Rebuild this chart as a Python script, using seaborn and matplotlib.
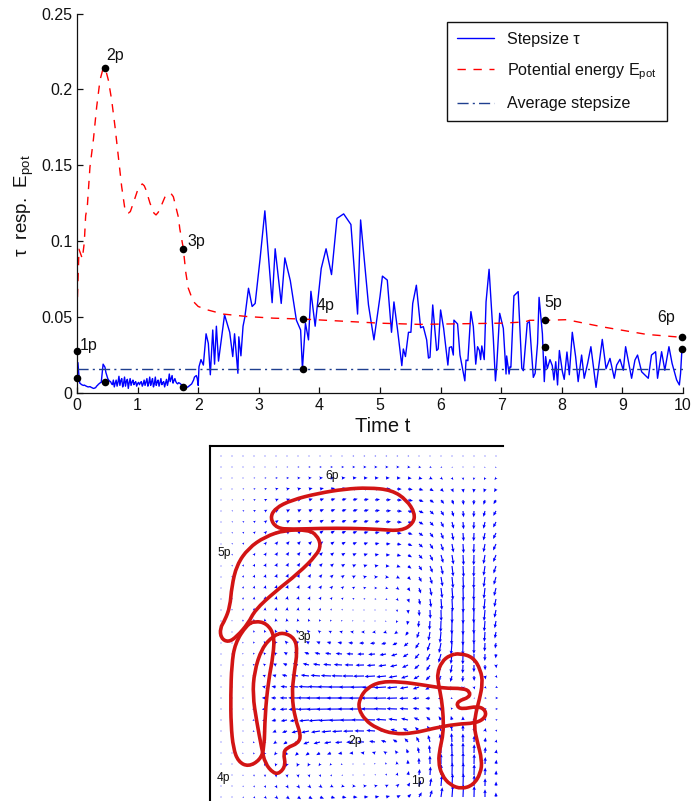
import numpy as np
import matplotlib
matplotlib.use('Agg')
import matplotlib.pyplot as plt
from matplotlib.path import Path
from matplotlib.patches import PathPatch
import seaborn as sns

W, H = 693, 801

# stepsize, evenly sampled on 0..2
tau_early = [.020, .020, .012, .0065, .006, .0055, .0052, .005, .0052, .0048, .0045, .0042, .004, .0041, .0042, .0038,
             .0035, .0032, .003, .0033, .0035, .0045, .005, .0058, .0062, .0068, .007, .013, .019, .018, .017, .0135,
             .0115, .0095, .0085, .0078, .0075, .0062, .0055, .0085, .004, .0065, .0085, .0045, .0072, .011, .005,
             .0082, .0095, .004, .0065, .0105, .0045, .0078, .009, .003, .0068, .0095, .005, .0072, .0085, .0055,
             .0068, .0075, .0045, .0062, .007, .0055, .0068, .0075, .0045, .006, .0085, .005, .0072, .0095, .0045,
             .0065, .0105, .005, .0075, .0095, .004, .0062, .0105, .005, .0072, .0085, .0045, .0068, .0095, .0055,
             .0068, .0075, .004, .0065, .009, .005, .0078, .0125, .0075, .0095, .0115, .0065, .0082, .0095, .0075,
             .0065, .006, .0068, .0065, .006, .0055, .0048, .004, .0038, .0038, .0035, .0038, .004, .0045, .005,
             .0055, .006, .0072, .0085, .0105, .011, .0115, .0095, .005]
# stepsize after t=2
tau_late_t = [2.013, 2.046, 2.085, 2.13, 2.167, 2.2, 2.24, 2.27, 2.30, 2.335, 2.435, 2.52, 2.57, 2.6, 2.655, 2.67,
              2.705, 2.74, 2.77, 2.83, 2.89, 2.94, 3.02, 3.1, 3.22, 3.27, 3.37, 3.43, 3.52, 3.62, 3.69, 3.72, 3.77,
              3.82, 3.86, 3.93, 4.03, 4.11, 4.2, 4.29, 4.4, 4.52, 4.63, 4.68, 4.81, 4.9, 5.0, 5.04, 5.12, 5.19, 5.23,
              5.29, 5.36, 5.385, 5.42, 5.47, 5.51, 5.54, 5.6, 5.67, 5.715, 5.77, 5.8, 5.825, 5.87, 5.935, 5.96, 6.0,
              6.05, 6.12, 6.145, 6.18, 6.21, 6.22, 6.28, 6.32, 6.4, 6.42, 6.45, 6.5, 6.54, 6.58, 6.61, 6.64, 6.66,
              6.68, 6.72, 6.75, 6.8, 6.87, 6.905, 6.925, 6.975, 7.035, 7.08, 7.09, 7.13, 7.145, 7.16, 7.21, 7.28,
              7.34, 7.365, 7.43, 7.465, 7.53, 7.56, 7.60, 7.625, 7.68, 7.711, 7.733, 7.76, 7.805, 7.843, 7.87, 7.9,
              7.93, 7.96, 8.01, 8.04, 8.085, 8.124, 8.173, 8.228, 8.27, 8.327, 8.37, 8.426, 8.48, 8.565, 8.668, 8.73,
              8.795, 8.866, 8.905, 8.96, 9.015, 9.053, 9.152, 9.207, 9.25, 9.317, 9.427, 9.48, 9.548, 9.58, 9.647,
              9.70, 9.768, 9.82, 9.895, 9.94, 9.96, 9.983]
tau_late = [.0173, .022, .0184, .039, .0327, .012, .0415, .019, .044, .021, .0515, .04, .024, .039, .013, .037,
            .0245, .044, .05, .069, .057, .059, .088, .12, .0595, .095, .059, .089, .074, .048, .0415, .016, .046,
            .035, .067, .044, .082, .095, .078, .115, .118, .111, .052, .114, .058, .035, .0635, .077, .0744, .04, .06,
            .0415, .018, .029, .024, .04, .04, .059, .071, .043, .0437, .035, .023, .0235, .058, .028, .029, .0547,
            .0426, .0184, .03, .0305, .025, .048, .0455, .025, .008, .0217, .0213, .0536, .0437, .019, .0305, .028, .022,
            .031, .022, .06, .0815, .036, .008, .017, .0525, .0426, .0125, .0244, .0125, .0173, .017, .064, .0668,
            .0162, .0147, .046, .047, .0103, .013, .0327, .063, .039, .0075, .024, .016, .022, .018, .0086, .0206,
            .0053, .028, .014, .009, .027, .012, .04, .024, .0075, .025, .0097, .0195, .0305, .0037, .0353, .016,
            .0228, .0097, .0184, .0222, .015, .0305, .0097, .0217, .025, .014, .0097, .025, .0272, .0097, .0272,
            .015, .0305, .0195, .0086, .0053, .013, .0294]

epot_t = [0, 0, .005, .033, .088, .12, .143, .17, .214, .27, .325, .38, .424, .467, .517, .572, .627, .682, .737, .792,
          .82, .847, .88, .93, 1.012, 1.045, 1.078, 1.11, 1.139, 1.205, 1.27, 1.304, 1.34, 1.397, 1.45, 1.507, 1.55,
          1.59, 1.672, 1.697, 1.752, 1.796, 1.835, 1.917, 2.0, 2.138, 2.413, 2.8, 3.24, 3.735, 5.0, 5.65, 7.0, 7.39,
          7.47, 7.72, 8.08, 8.68, 9.4, 9.975]
epot = [0, .028, .06, .0947, .0885, .099, .1168, .1227, .149, .1667, .1886, .2062, .2128, .2139, .2062, .193, .1755,
        .1558, .136, .1207, .1185, .1185, .1195, .1252, .135, .1368, .1377, .1365, .1338, .125, .1185, .1173, .119,
        .124, .129, .1315, .1315, .1293, .116, .108, .0958, .0792, .0692, .0604, .057, .0549, .052, .0504, .0493,
        .0487, .046, .0452, .046, .0468, .0479, .0479, .0483, .0435, .0386, .0367]

avg_stepsize = .0155
snap_t = [0, 0, .467, .47, 1.75, 1.75, 3.73, 3.73, 7.72, 7.72, 9.98, 9.98]
snap_v = [.0275, .01, .214, .0075, .095, .0038, .0485, .0155, .048, .03, .037, .029]
snap_labels = ['1p', '2p', '3p', '4p', '5p', '6p']
snap_label_t = [.05, .48, 1.82, 3.95, 7.72, 9.57]
snap_label_v = [.0315, .2225, .0995, .0575, .0595, .050]
x_ticks = list(range(11))
y_ticks = [0, .05, .1, .15, .2, .25]
y_tick_labels = ['0', '0.05', '0.1', '0.15', '0.2', '0.25']

# flow field, arrow components in picture pixels (v positive = downwards)
field_u = [
    [.4, .4, .4, .4, .5, .5, .5, .5, .7, .7, .7, .7, 1, 1, 1, 1, 1, 1, .8, .5, .3, .2, 0, -.1, -.2, -.3],
    [.5, .5, .6, .7, .8, .9, 1, 1.2, 1.4, 1.5, 1.6, 1.7, 1.8, 2, 2, 2, 2, 2, 1.8, 1.4, 1, .5, .2, -.2, -.4, -.6],
    [.6, .7, .8, 1, 1.2, 1.5, 1.7, 2, 2.2, 2.4, 2.6, 2.8, 3, 3, 3, 3, 3, 3, 2.8, 2.2, 1.6, 1, .3, -.3, -.8, -1.2],
    [.6, .8, 1, 1.3, 1.6, 2, 2.3, 2.6, 2.9, 3.1, 3.3, 3.5, 3.6, 3.7, 3.7, 3.7, 3.8, 3.8, 3.5, 3, 2.2, 1.2, .4, -.3, -1, -1.6],
    [.6, .8, 1.1, 1.4, 1.8, 2.2, 2.5, 2.8, 3, 3.3, 3.5, 3.7, 3.8, 3.9, 4, 4, 4, 4, 3.7, 3.2, 2.5, 1.4, .5, -.3, -1.2, -2],
    [.6, .8, 1.1, 1.5, 1.9, 2.2, 2.5, 2.8, 3, 3.2, 3.4, 3.6, 3.8, 3.9, 4, 4.1, 4.1, 4, 3.8, 3.2, 2.4, 1.4, .5, -.3, -1.3, -2.2],
    [.5, .8, 1.1, 1.4, 1.8, 2.1, 2.4, 2.7, 2.9, 3.1, 3.3, 3.5, 3.7, 3.8, 3.9, 4, 4, 3.9, 3.6, 3, 2.2, 1.4, .5, -.3, -1.3, -2.3],
    [.4, .7, 1, 1.3, 1.6, 1.9, 2.2, 2.5, 2.7, 2.9, 3.1, 3.3, 3.4, 3.6, 3.7, 3.8, 3.8, 3.7, 3.4, 2.8, 2, 1.2, .5, -.3, -1.3, -2.3],
    [.3, .6, .9, 1.1, 1.4, 1.7, 2, 2.2, 2.4, 2.6, 2.8, 3, 3.2, 3.3, 3.5, 3.6, 3.6, 3.5, 3.2, 2.6, 1.9, 1.2, .5, -.3, -1.3, -2.3],
    [.2, .5, .7, 1, 1.2, 1.5, 1.7, 1.9, 2.1, 2.3, 2.5, 2.7, 2.9, 3.1, 3.2, 3.3, 3.3, 3.2, 2.9, 2.4, 1.8, 1.2, .5, -.3, -1.3, -2.2],
    [.2, .4, .6, .8, 1, 1.2, 1.4, 1.7, 1.9, 2.1, 2.3, 2.5, 2.6, 2.8, 2.9, 2.9, 2.9, 2.8, 2.5, 2.1, 1.6, 1, .5, -.3, -1.2, -2],
    [.1, .3, .5, .7, .8, 1, 1.2, 1.4, 1.6, 1.8, 2, 2.1, 2.3, 2.4, 2.5, 2.5, 2.4, 2.3, 2.1, 1.8, 1.3, .9, .4, -.3, -1.1, -1.8],
    [.1, .2, .4, .5, .7, .8, 1, 1.1, 1.3, 1.5, 1.6, 1.7, 1.8, 1.9, 1.9, 1.9, 1.9, 1.8, 1.6, 1.4, 1, .7, .3, -.3, -1, -1.6],
    [0, .1, .2, .3, .5, .6, .7, .8, .9, 1, 1.1, 1.2, 1.2, 1.2, 1.2, 1.2, 1.2, 1.1, 1, .9, .7, .5, .2, -.3, -.9, -1.4],
    [0, 0, .1, .2, .2, .3, .3, .4, .4, .4, .4, .4, .4, .4, .3, .3, .3, .3, .3, .3, .2, .1, .1, -.3, -.8, -1.3],
    [0, 0, -.1, -.2, -.3, -.4, -.4, -.5, -.6, -.7, -.8, -.8, -.8, -.8, -.7, -.7, -.7, -.7, -.6, -.5, -.3, -.2, 0, -.2, -.7, -1.1],
    [0, -.1, -.2, -.4, -.6, -.9, -1.1, -1.4, -1.6, -1.8, -2, -2.2, -2.3, -2.3, -2.3, -2.3, -2.2, -2.1, -1.8, -1.3, -.9, -.4, -.1, -.1, -.6, -1],
    [0, -.1, -.3, -.6, -1, -1.4, -1.8, -2.2, -2.6, -3, -3.4, -3.6, -3.8, -3.9, -4, -3.9, -3.7, -3.4, -3, -2.3, -1.6, -.8, -.2, -.1, -.4, -.7],
    [0, -.2, -.4, -.8, -1.3, -1.9, -2.6, -3.2, -3.8, -4.4, -4.8, -5.1, -5.3, -5.4, -5.4, -5.2, -4.8, -4.2, -3.5, -2.8, -2, -1, -.2, -.1, -.2, -.3],
    [0, -.2, -.5, -1, -1.6, -2.4, -3.3, -4.2, -5, -5.7, -6.3, -6.6, -6.8, -6.8, -6.6, -6.2, -5.6, -4.8, -3.8, -3, -2.2, -1.2, -.3, -.1, .1, .3],
    [0, -.3, -.6, -1.2, -2, -3, -4.2, -5.4, -6.6, -7.6, -8.2, -8.6, -8.8, -8.8, -8.4, -7.8, -6.8, -5.6, -4.4, -3.4, -2.4, -1.4, -.4, .2, .6, 1],
    [0, -.3, -.7, -1.4, -2.4, -3.6, -5.2, -6.8, -8.4, -9.6, -10.6, -11, -11.2, -11, -10.4, -9.6, -8.2, -6.6, -5, -3.8, -2.6, -1.4, -.3, .6, 1.2, 1.6],
    [0, -.3, -.8, -1.5, -2.6, -4, -5.8, -7.8, -9.6, -11, -12, -12.4, -12.4, -12, -11.2, -10, -8.6, -7, -5.2, -3.8, -2.4, -1.2, -.2, .8, 1.4, 1.8],
    [0, -.3, -.8, -1.5, -2.6, -4, -5.8, -7.6, -9.4, -10.8, -11.8, -12.2, -12.2, -11.8, -11, -9.8, -8.4, -6.8, -5, -3.6, -2.2, -1, -.1, .7, 1.3, 1.6],
    [0, -.3, -.7, -1.3, -2.3, -3.6, -5, -6.6, -8, -9.2, -10, -10.4, -10.4, -10, -9.2, -8.2, -7, -5.6, -4.2, -3, -1.9, -.9, -.1, .5, 1, 1.3],
    [0, -.2, -.6, -1.1, -1.9, -2.9, -4, -5.2, -6.3, -7.2, -7.8, -8, -8, -7.7, -7, -6.2, -5.2, -4.2, -3.2, -2.3, -1.5, -.8, -.1, .4, .7, .9],
    [0, -.2, -.5, -.9, -1.5, -2.2, -3, -3.8, -4.6, -5.2, -5.6, -5.6, -5.5, -5.2, -4.7, -4.1, -3.4, -2.8, -2.2, -1.6, -1, -.5, -.1, .3, .5, .6],
    [0, -.1, -.3, -.6, -1, -1.5, -2, -2.4, -2.8, -3, -3.2, -3.2, -3, -2.8, -2.5, -2.1, -1.7, -1.3, -1, -.7, -.5, -.3, 0, .2, .4, .5],
    [0, -.1, -.2, -.3, -.5, -.7, -.9, -1, -1.1, -1.1, -1.1, -1, -.8, -.7, -.6, -.4, -.3, -.2, -.1, -.1, 0, 0, .1, .2, .3, .4],
    [0, 0, 0, .1, .1, .2, .3, .4, .5, .6, .7, .7, .7, .7, .7, .7, .7, .7, .6, .4, .3, .2, .2, .2, .2, .2],
    [.1, .2, .3, .5, .7, 1, 1.2, 1.5, 1.8, 2, 2.1, 2.2, 2.3, 2.3, 2.2, 2.1, 1.9, 1.7, 1.4, 1.1, .7, .5, .3, .2, .1, .1],
    [.2, .4, .7, 1, 1.4, 1.8, 2.2, 2.5, 2.9, 3.2, 3.4, 3.6, 3.6, 3.5, 3.4, 3.2, 3, 2.6, 2.2, 1.7, 1.1, .7, .4, .2, 0, -.1],
]
field_v = [
    [0, 0, 0, 0, 0, 0, 0, 0, 0, 0, 0, 0, 0, 0, 0, 0, 0, 0, 0, 0, .2, .2, .2, .2, .2, .2],
    [0, 0, 0, 0, 0, 0, 0, 0, 0, 0, 0, 0, 0, 0, 0, 0, 0, .2, .3, .5, .6, .7, .7, .8, .8, .8],
    [-.1, -.1, -.1, -.1, -.1, -.1, -.1, -.1, -.2, -.2, -.2, -.2, -.2, -.1, -.1, -.1, 0, .3, .7, 1, 1.3, 1.6, 1.8, 1.8, 1.7, 1.6],
    [-.2, -.2, -.3, -.4, -.5, -.6, -.6, -.7, -.7, -.7, -.7, -.7, -.6, -.5, -.4, -.2, .1, .5, 1, 1.7, 2.3, 2.7, 3, 3, 2.8, 2.5],
    [-.2, -.3, -.4, -.6, -.8, -.9, -1, -1.1, -1.1, -1.1, -1.1, -1.1, -1, -.8, -.6, -.3, .1, .7, 1.4, 2.2, 3.1, 3.7, 4, 4, 3.8, 3.3],
    [-.2, -.4, -.6, -.8, -1, -1.2, -1.3, -1.4, -1.4, -1.4, -1.4, -1.3, -1.2, -1, -.7, -.3, .2, .9, 1.7, 2.8, 3.8, 4.6, 5, 5, 4.7, 3.9],
    [-.3, -.5, -.7, -1, -1.3, -1.5, -1.6, -1.7, -1.7, -1.7, -1.6, -1.5, -1.3, -1.1, -.8, -.4, .2, 1, 2, 3.2, 4.4, 5.4, 5.8, 5.8, 5.4, 4.4],
    [-.4, -.7, -1, -1.3, -1.6, -1.8, -1.9, -2, -2, -2, -1.8, -1.6, -1.4, -1.1, -.8, -.3, .3, 1.2, 2.4, 3.7, 5, 6, 6.6, 6.6, 6, 4.8],
    [-.5, -.8, -1.2, -1.5, -1.8, -2.1, -2.2, -2.2, -2.2, -2.1, -1.9, -1.7, -1.4, -1.1, -.7, -.2, .5, 1.5, 2.8, 4.2, 5.6, 6.8, 7.4, 7.4, 6.6, 5.2],
    [-.6, -1, -1.3, -1.7, -2, -2.3, -2.4, -2.4, -2.3, -2.2, -2, -1.7, -1.4, -1, -.6, -.1, .7, 1.8, 3.2, 4.8, 6.4, 7.6, 8.2, 8.2, 7.2, 5.6],
    [-.6, -1, -1.4, -1.8, -2.2, -2.4, -2.5, -2.5, -2.4, -2.2, -2, -1.7, -1.3, -.9, -.5, .1, .9, 2.1, 3.6, 5.4, 7, 8.4, 9, 8.8, 7.8, 6],
    [-.6, -1.1, -1.5, -1.9, -2.2, -2.5, -2.6, -2.5, -2.4, -2.2, -1.9, -1.6, -1.2, -.7, -.2, .3, 1.2, 2.4, 4, 5.8, 7.6, 9, 9.8, 9.4, 8.2, 6.2],
    [-.6, -1.1, -1.5, -1.9, -2.2, -2.5, -2.5, -2.5, -2.3, -2.1, -1.8, -1.4, -1, -.5, 0, .5, 1.4, 2.7, 4.4, 6.4, 8.2, 9.6, 10.4, 10, 8.6, 6.4],
    [-.6, -1, -1.5, -1.9, -2.2, -2.4, -2.4, -2.3, -2.1, -1.9, -1.6, -1.2, -.8, -.4, .1, .7, 1.6, 3, 4.8, 6.8, 8.8, 10.2, 11, 10.4, 8.8, 6.4],
    [-.5, -1, -1.4, -1.8, -2.1, -2.3, -2.3, -2.2, -2, -1.7, -1.3, -1, -.6, -.3, .1, .7, 1.7, 3.1, 5, 7, 9, 10.6, 11.2, 10.6, 8.8, 6.2],
    [-.5, -.9, -1.3, -1.7, -2, -2.2, -2.2, -2, -1.8, -1.5, -1.1, -.8, -.5, -.2, .1, .7, 1.7, 3.2, 5.2, 7.2, 9, 10.6, 11.2, 10.4, 8.4, 5.8],
    [-.4, -.8, -1.2, -1.5, -1.8, -2, -2, -1.8, -1.6, -1.3, -.9, -.6, -.3, 0, .3, .8, 1.7, 3, 5, 7, 8.8, 10.2, 10.8, 9.8, 7.8, 5.2],
    [-.3, -.6, -1, -1.3, -1.6, -1.8, -1.9, -1.7, -1.5, -1.2, -.8, -.5, -.2, .1, .4, .9, 1.7, 2.8, 4.5, 6.4, 8, 9.4, 9.8, 8.8, 6.8, 4.4],
    [-.2, -.5, -.8, -1.1, -1.4, -1.5, -1.6, -1.6, -1.4, -1.1, -.8, -.5, -.2, .1, .4, .9, 1.6, 2.6, 4, 5.6, 7, 8, 8.4, 7.4, 5.6, 3.5],
    [-.1, -.3, -.6, -.9, -1.1, -1.3, -1.3, -1.3, -1.2, -.9, -.6, -.4, -.1, .2, .5, .9, 1.4, 2.2, 3.4, 4.6, 5.8, 6.6, 6.8, 5.8, 4.2, 2.6],
    [-.1, -.2, -.4, -.6, -.8, -.9, -1, -.9, -.8, -.6, -.4, -.2, 0, .2, .5, .8, 1.2, 1.8, 2.6, 3.5, 4.2, 4.8, 4.8, 4, 2.8, 1.6],
    [0, -.1, -.2, -.3, -.4, -.5, -.5, -.5, -.4, -.3, -.2, 0, .1, .2, .4, .6, .8, 1.2, 1.7, 2.2, 2.6, 2.8, 2.6, 2, 1.3, .6],
    [0, 0, 0, 0, -.1, -.1, -.1, -.1, -.1, 0, 0, 0, 0, .1, .1, .2, .3, .4, .5, .6, .7, .8, .6, .4, .2, 0],
    [0, .1, .1, .2, .3, .3, .4, .4, .3, .3, .2, .1, 0, 0, -.1, -.2, -.3, -.4, -.7, -1, -1.2, -1.3, -1.2, -.8, -.4, -.1],
    [.1, .2, .3, .5, .6, .8, .9, .9, .8, .7, .5, .3, .1, -.1, -.3, -.6, -.9, -1.3, -2, -2.6, -3.1, -3.3, -3, -2.2, -1.3, -.5],
    [.1, .3, .5, .7, .9, 1.2, 1.3, 1.4, 1.3, 1.1, .8, .5, .2, -.1, -.5, -1, -1.5, -2.2, -3.2, -4.2, -5, -5.4, -5, -3.8, -2.4, -1.2],
    [.2, .4, .7, 1, 1.3, 1.6, 1.8, 1.8, 1.7, 1.4, 1, .6, .2, -.2, -.7, -1.3, -2, -3, -4.2, -5.6, -6.6, -7.2, -6.8, -5.4, -3.6, -2],
    [.3, .5, .8, 1.2, 1.6, 1.9, 2.1, 2.2, 2, 1.7, 1.2, .7, .2, -.3, -.8, -1.4, -2.2, -3.4, -4.8, -6.4, -7.8, -8.6, -8.4, -7, -4.8, -2.8],
    [.3, .6, .9, 1.3, 1.7, 2, 2.2, 2.3, 2.1, 1.8, 1.3, .8, .2, -.3, -.8, -1.4, -2.2, -3.4, -5, -6.8, -8.4, -9.4, -9.4, -8, -5.6, -3.4],
    [.3, .6, .9, 1.3, 1.7, 2, 2.2, 2.2, 2, 1.7, 1.2, .7, .2, -.2, -.6, -1.2, -2, -3.2, -4.8, -6.8, -8.6, -10, -10, -8.6, -6, -3.6],
    [.3, .6, .9, 1.2, 1.6, 1.9, 2, 2, 1.8, 1.5, 1, .6, .2, -.2, -.5, -1, -1.7, -2.8, -4.4, -6.4, -8.4, -10, -10.2, -8.8, -6.2, -3.6],
    [.3, .5, .8, 1.1, 1.4, 1.6, 1.8, 1.8, 1.6, 1.3, .9, .5, .2, -.1, -.4, -.8, -1.4, -2.4, -3.8, -5.6, -7.8, -9.6, -10, -8.8, -6.2, -3.6],
]

# interface outlines, one closed curve per snapshot
drop_1_x = [460, 473.3, 480.7, 482.7, 479.3, 476, 474, 477.3, 482, 480.7, 473.3, 461.7, 450, 441.7, 438.3, 440, 443.3, 443.3, 441.7, 438.3, 437.3, 441.7, 450]
drop_1_y = [653.3, 657.3, 670, 683.3, 700, 711.7, 726.7, 741.7, 760, 773.3, 785, 789, 785, 775, 761.7, 748.3, 733.3, 716.7, 700, 683.3, 673.3, 661.7, 655]
drop_2_x = [358.3, 360, 366.7, 380, 400, 423.3, 443.3, 463.3, 470, 469.3, 458.3, 456.7, 461.7, 478.3, 486, 485, 475, 456.7, 433.3, 413.3, 393.3, 376.7, 365]
drop_2_y = [708.3, 698, 688.3, 681.7, 681.7, 685, 688.3, 688.3, 691.7, 697.3, 701, 706, 709.3, 706, 710.7, 718.3, 723.3, 724, 728.3, 733.3, 734, 728.3, 720]
drop_3_x = [283.3, 295, 297.3, 294.3, 291.7, 295, 301, 298.3, 286.7, 283.3, 285.7, 280, 273.3, 265, 261.7, 256.7, 252.7, 254.3, 261.7, 273.3]
drop_3_y = [632.3, 638.3, 651.7, 671.7, 695, 718.3, 735, 743.3, 747.7, 753.3, 765, 773.3, 773.3, 763.3, 748.3, 721.7, 695, 671.7, 648.3, 635.7]
drop_4_x = [255, 266.7, 274.3, 273.3, 268.3, 265, 264.3, 260, 248.3, 238.3, 233.3, 231, 230.7, 231.7, 235, 246.7]
drop_4_y = [621, 623.3, 635, 655, 681.7, 715, 748.3, 760, 766.7, 761.7, 748.3, 725, 695, 665, 643.3, 625]
drop_5_x = [285, 265, 248.3, 236.7, 231.7, 230, 225, 220, 221, 228.3, 236.7, 248.3, 255, 275, 298.3, 316.7, 321, 316.7, 308.3]
drop_5_y = [530, 536.7, 548.3, 565, 586.7, 606.7, 620, 628.3, 638.3, 642.3, 636.7, 623.3, 610, 591.7, 573.3, 555, 545, 535, 530]
drop_6_x = [368.3, 391.7, 406.7, 415, 413.3, 401.7, 378.3, 351.7, 321.7, 291.7, 276.7, 270, 275, 291.7, 318.3, 345]
drop_6_y = [487.7, 490, 500, 513.3, 523.3, 531, 529.3, 528.3, 528.3, 529.3, 528.3, 518.3, 508.3, 500, 493.3, 489]

field_labels = ['1p', '2p', '3p', '4p', '5p', '6p']
field_label_x = [418.3, 355, 304.3, 223.3, 224.3, 332.3]
field_label_y = [780.7, 741, 636.7, 778.3, 552.7, 475.7]

sns.set_style('ticks')
plt.rcParams.update({
    'font.family': ['Liberation Sans', 'DejaVu Sans'],
    'mathtext.fontset': 'custom',
    'mathtext.rm': 'Liberation Sans',
    'mathtext.it': 'Liberation Sans',
    'lines.scale_dashes': False,
    'text.color': '#111111',
    'axes.labelcolor': '#111111',
    'xtick.color': '#111111',
    'ytick.color': '#111111',
})

fig = plt.figure(figsize=(W / 100, H / 100), dpi=100)

# --- time series ---
ax = fig.add_axes([77 / W, 1 - 393 / H, 606 / W, 379.5 / H])
tau_t = np.concatenate([np.linspace(0, 2, len(tau_early)), tau_late_t])
tau = np.concatenate([tau_early, tau_late])
sns.lineplot(x=tau_t, y=tau, ax=ax, color='#0000ff', linewidth=1.0, estimator=None, sort=False,
             label=r'Stepsize τ')
sns.lineplot(x=epot_t, y=epot, ax=ax, color='#ff0000', linewidth=1.0, estimator=None, sort=False,
             linestyle=(0, (6, 5.5)), label=r'Potential energy E$_{\mathrm{pot}}$')
sns.lineplot(x=[0, 10], y=[avg_stepsize, avg_stepsize], ax=ax, color='#1f3f8f', linewidth=1.0,
             linestyle=(0, (8, 3, 1.5, 3)), label='Average stepsize')
sns.scatterplot(x=snap_t, y=snap_v, ax=ax, color='black', s=30, linewidth=0, clip_on=False, zorder=5)
for lab, tx, ty in zip(snap_labels, snap_label_t, snap_label_v):
    ax.text(tx, ty, lab, fontsize=11.5, ha='left', va='center')

ax.set_xlim(0, 10)
ax.set_ylim(0, .25)
ax.set_xticks(x_ticks)
ax.set_yticks(y_ticks)
ax.set_yticklabels(y_tick_labels)
ax.tick_params(direction='in', length=4.5, width=0.9, labelsize=11.5, pad=3.5)
sns.despine(ax=ax)
for s in ['left', 'bottom']:
    ax.spines[s].set_linewidth(0.9)
    ax.spines[s].set_color('#111111')
ax.set_xlabel('Time t', fontsize=14.5)
ax.set_ylabel(r'τ  resp.  E$_{\mathrm{pot}}$', fontsize=13.5)
ax.xaxis.set_label_coords(.505, -.064)
ax.yaxis.set_label_coords(-.068, .495)

leg = ax.legend(loc='upper left', bbox_to_anchor=(447 / W, 1 - 22 / H), bbox_transform=fig.transFigure,
                borderaxespad=0, fancybox=False, framealpha=1, edgecolor='#111111', fontsize=11.6,
                handlelength=2.3, handletextpad=.85, labelspacing=.9, borderpad=.6)
leg.get_frame().set_linewidth(1.0)

# --- flow field with interface ---
ax2 = fig.add_axes([210 / W, 0, 293 / W, (H - 446) / H])
grid_x = 221 + 11 * np.arange(len(field_u[0]))
grid_y = 456 + 11 * np.arange(len(field_u))
gx, gy = np.meshgrid(grid_x, grid_y)
ax2.quiver(gx, gy, np.array(field_u), np.array(field_v), color='#0000ff', angles='xy', scale_units='xy', scale=.8,
           units='dots', width=1.15, headwidth=3, headlength=3.4, headaxislength=3, minshaft=.8, minlength=.9,
           pivot='tail')

# quadratic pieces through the edge midpoints, closes the loop smoothly
for xs, ys in [(drop_1_x, drop_1_y), (drop_2_x, drop_2_y), (drop_3_x, drop_3_y),
               (drop_4_x, drop_4_y), (drop_5_x, drop_5_y), (drop_6_x, drop_6_y)]:
    pts = np.column_stack([xs, ys])
    mids = (pts + np.roll(pts, -1, axis=0)) / 2
    verts = [mids[-1]]
    codes = [Path.MOVETO]
    for p, m in zip(pts, mids):
        verts += [p, m]
        codes += [Path.CURVE3, Path.CURVE3]
    ax2.add_patch(PathPatch(Path(verts, codes), fill=False, edgecolor='#d21414', linewidth=2.6, zorder=3))

for lab, lx, ly in zip(field_labels, field_label_x, field_label_y):
    ax2.text(lx, ly, lab, fontsize=8.7, ha='center', va='center', zorder=4)

ax2.set_xlim(210, 503)
ax2.set_ylim(801, 446)
ax2.set_xticks([])
ax2.set_yticks([])
ax2.set_facecolor('none')
for s in ['right', 'bottom']:
    ax2.spines[s].set_visible(False)
for s in ['left', 'top']:
    ax2.spines[s].set_linewidth(1.5)
    ax2.spines[s].set_color('black')

fig.savefig('out.png', dpi=100, facecolor='white')
